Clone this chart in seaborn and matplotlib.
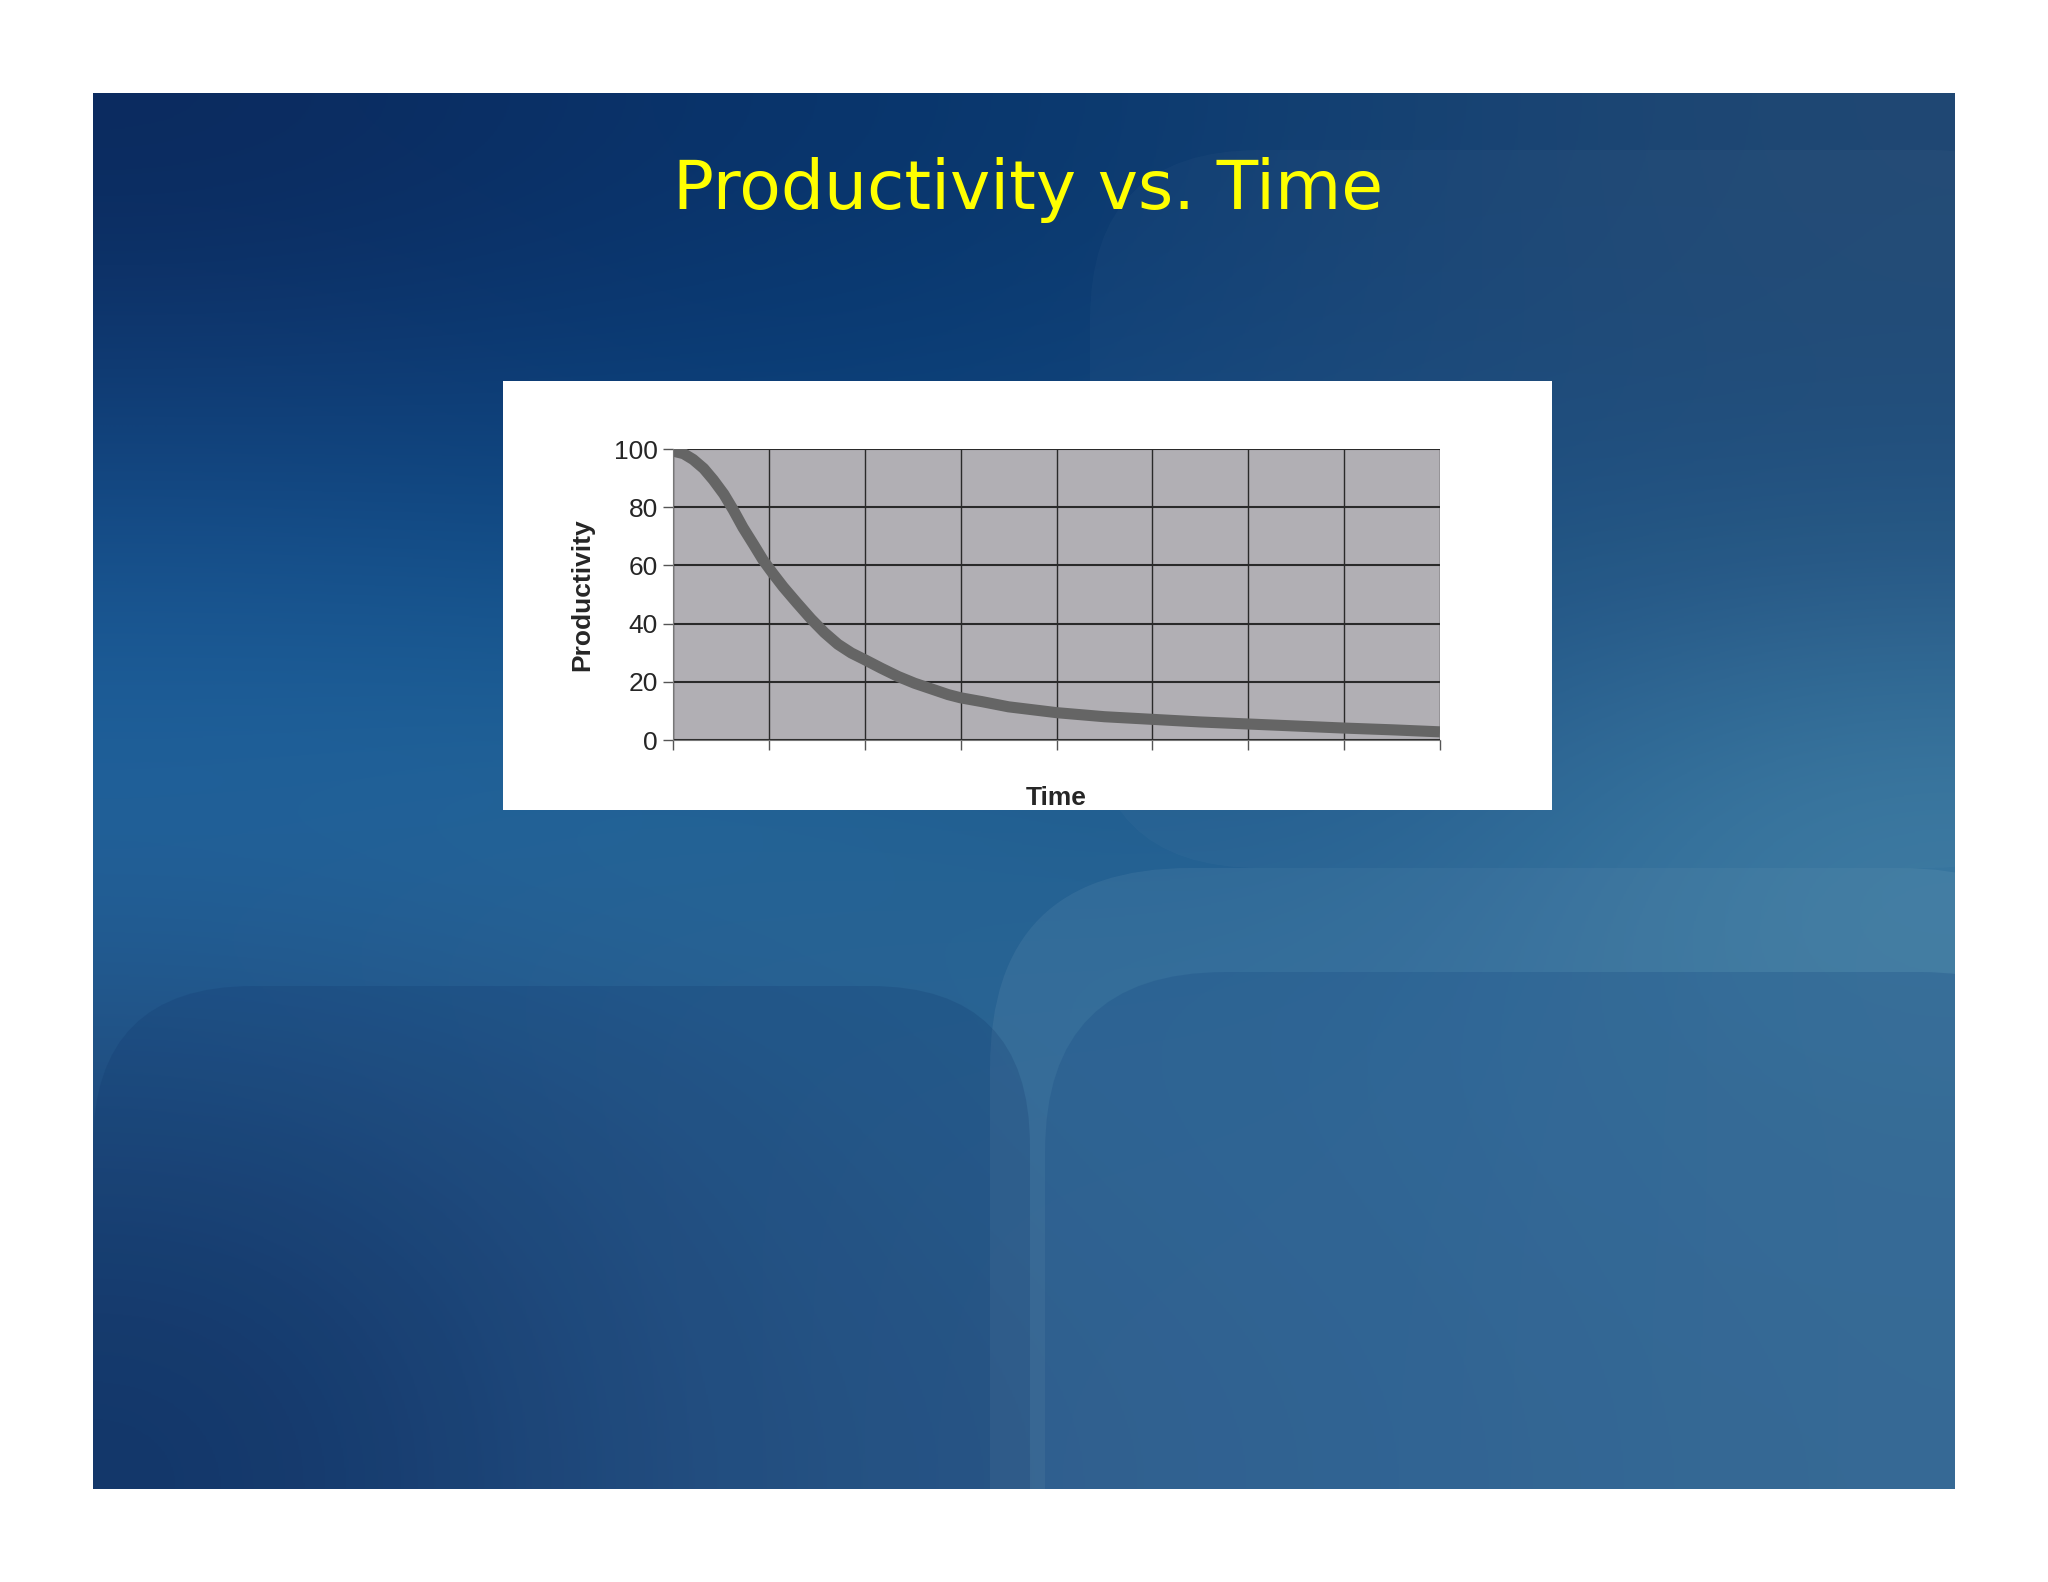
import matplotlib
matplotlib.use('Agg')
import matplotlib.pyplot as plt
import seaborn as sns
import numpy as np
import pandas as pd
from matplotlib.patches import FancyBboxPatch

# dados
tempo = [0, 0.11, 0.21, 0.32, 0.42, 0.53, 0.63, 0.73, 0.84, 0.94, 1.04, 1.15, 1.29, 1.44,
         1.58, 1.72, 1.86, 2.0, 2.17, 2.35, 2.52, 2.7, 2.87, 3.0, 3.22, 3.5, 4.0, 4.5,
         5.0, 5.5, 6.0, 6.5, 7.0, 7.5, 8.0]
produtividade = [99.3, 98.4, 96.4, 93.3, 89.4, 84.5, 79, 73, 67.2, 61.8, 57.3, 52.6, 47.2, 41.6,
                 36.9, 32.9, 29.9, 27.6, 24.7, 21.8, 19.5, 17.5, 15.6, 14.5, 13.2, 11.4, 9.4, 8.0,
                 7.1, 6.2, 5.5, 4.8, 4.1, 3.5, 2.8]
y_ticks = [0, 20, 40, 60, 80, 100]
x_ticks = [0, 1, 2, 3, 4, 5, 6, 7, 8]

df = pd.DataFrame({'Time': tempo, 'Productivity': produtividade})

sns.set_style('white')
plt.rcParams['font.family'] = ['Liberation Sans', 'DejaVu Sans']

W, H = 2048, 1582
fig = plt.figure(figsize=(20.48, 15.82), dpi=100)
fig.patch.set_facecolor('white')

def px_axes(x0, y0, x1, y1):
    return fig.add_axes([x0 / W, 1 - y1 / H, (x1 - x0) / W, (y1 - y0) / H])

# Fundo azul do slide
bg = px_axes(93, 93, 1955, 1489)
cores = np.array([
    [[11, 42, 94], [10, 50, 105], [8, 55, 110], [22, 66, 115], [32, 72, 115]],
    [[20, 75, 135], [12, 70, 130], [15, 70, 128], [24, 74, 125], [26, 74, 122]],
    [[34, 104, 162], [38, 108, 158], [34, 98, 148], [34, 94, 144], [60, 125, 165]],
    [[34, 80, 130], [40, 90, 140], [44, 102, 148], [44, 106, 152], [56, 114, 154]],
    [[20, 55, 105], [40, 85, 135], [46, 94, 140], [45, 100, 148], [56, 110, 150]],
]) / 255.0
bg.imshow(cores, extent=[0, 1, 0, 1], aspect='auto', interpolation='bicubic')
bg.set_xlim(0, 1)
bg.set_ylim(0, 1)

def forma(x0, y0, x1, y1, cor, alpha, rad):
    # coordenadas em pixels da figura
    sx, sy = 1955 - 93, 1489 - 93
    p = FancyBboxPatch(((x0 - 93) / sx, 1 - (y1 - 93) / sy), (x1 - x0) / sx, (y1 - y0) / sy,
                       boxstyle='round,pad=0,rounding_size=%f' % (rad / sx),
                       facecolor=cor, edgecolor='none', alpha=alpha,
                       transform=bg.transAxes, mutation_aspect=sx / sy)
    p.set_clip_path(bg.patch)
    bg.add_patch(p)

forma(1090, 150, 2100, 868, 'white', 0.025, 170)
forma(990, 868, 2100, 1700, 'white', 0.06, 200)
forma(1045, 972, 2100, 1700, '#1c4f86', 0.3, 180)
forma(93, 986, 1030, 1700, '#0e3268', 0.2, 160)
bg.axis('off')

# Titulo
fig.text(1028 / W, 1 - 209 / H, 'Productivity vs. Time', color='#ffff00',
         fontsize=49, ha='center', va='baseline', family=['DejaVu Sans'])

# Caixa branca do grafico
caixa = px_axes(503, 381, 1552, 810)
caixa.set_facecolor('white')
caixa.set_xticks([])
caixa.set_yticks([])
for s in caixa.spines.values():
    s.set_visible(False)

# Grafico
ax = px_axes(673, 449, 1440, 740)
ax.set_facecolor('#b1afb4')
sns.lineplot(data=df, x='Time', y='Productivity', ax=ax, color='#656565',
             linewidth=8, solid_capstyle='butt', solid_joinstyle='round')
ax.set_xlim(0, 8)
ax.set_ylim(0, 100)
ax.set_xticks(x_ticks)
ax.set_xticklabels([])
ax.set_yticks(y_ticks)
ax.set_yticklabels([str(v) for v in y_ticks], fontsize=19)
ax.grid(True, axis='y', color='#2a2a2a', linewidth=1.5)
ax.grid(True, axis='x', color='#2a2a2a', linewidth=1.0)
ax.set_axisbelow(True)
ax.tick_params(axis='both', direction='out', length=7, width=1, color='#555555',
               left=True, bottom=True, pad=4)
for lado in ['top', 'right']:
    ax.spines[lado].set_visible(False)
ax.spines['left'].set_color('#777777')
ax.spines['bottom'].set_color('#777777')
ax.set_xlabel('Time', fontsize=19, fontweight='bold', labelpad=22)
ax.set_ylabel('Productivity', fontsize=19, fontweight='bold', labelpad=14)

fig.savefig('out.png', dpi=100)
